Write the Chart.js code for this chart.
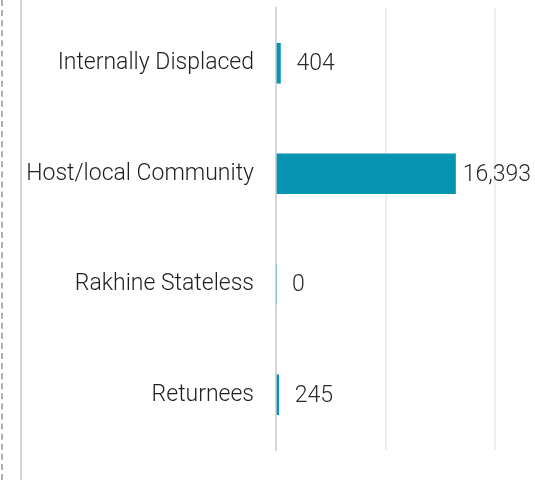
<!DOCTYPE html>
<html>
<head>
<meta charset="utf-8">
<script src="https://cdn.jsdelivr.net/npm/chart.js@4.4.1/dist/chart.umd.min.js"></script>
<style>
    html, body { margin: 0; padding: 0; background: #fff; }
    #wrap { position: relative; width: 535px; height: 480px; overflow: hidden; }
    #dash { position: absolute; left: 1px; top: 0; height: 480px; border-left: 2px dashed #b0b0b0; }
    #rule { position: absolute; left: 20px; top: 0; height: 480px; border-left: 2px solid #d4d4d4; }
    canvas { position: absolute; left: 0; top: 0; }
</style>
</head>
<body>
<div id="wrap">
    <div id="dash"></div>
    <div id="rule"></div>
    <canvas id="chart" width="535" height="480"></canvas>
</div>
<script>
// chart data
const categories = ['Internally Displaced', 'Host/local Community', 'Rakhine Stateless', 'Returnees'];
const people = [404, 16393, 0, 245];
const xTicks = [0, 10000, 20000];

const FONT = 'Roboto, "Liberation Sans", sans-serif';

// Draws the value next to each bar, pulled back in if it would run off the canvas
const valueLabels = {
    id: 'valueLabels',
    afterDatasetsDraw(chart) {
        const ctx = chart.ctx;
        const meta = chart.getDatasetMeta(0);
        ctx.save();
        ctx.font = '300 23px ' + FONT;
        ctx.fillStyle = '#2b2b2b';
        ctx.textBaseline = 'middle';
        ctx.textAlign = 'left';
        meta.data.forEach(function(bar, i) {
            const text = people[i].toLocaleString('en-US');
            const w = ctx.measureText(text).width;
            let x = bar.x + 16;
            if (x + w > chart.width - 4) x = chart.width - 4 - w;
            ctx.fillText(text, x, bar.y + 1);
        });
        ctx.restore();
    }
};

new Chart(document.getElementById('chart'), {
    type: 'bar',
    data: {
        labels: categories,
        datasets: [{
            data: people,
            backgroundColor: '#0595b1',
            barThickness: 40
        }]
    },
    options: {
        indexAxis: 'y',
        responsive: false,
        animation: false,
        layout: { padding: { top: 8, bottom: 30, right: 40, left: 0 } },
        plugins: {
            legend: { display: false },
            tooltip: { enabled: false }
        },
        scales: {
            x: {
                min: 0,
                max: 20000,
                afterBuildTicks: function(scale) {
                    scale.ticks = xTicks.map(v => ({ value: v }));
                },
                ticks: { display: false },
                border: { display: false },
                grid: {
                    drawTicks: false,
                    lineWidth: 2,
                    color: ctx => ctx.tick && ctx.tick.value === 0 ? 'rgba(0,0,0,0)' : '#eeeeee'
                }
            },
            y: {
                afterFit: function(scale) {
                    scale.width = 276;
                    scale.paddingTop = 0;
                    scale.paddingBottom = 0;
                },
                grid: { display: false, drawTicks: false },
                border: { display: true, color: '#d6d6d6', width: 2 },
                ticks: {
                    padding: 22,
                    color: '#1f1f1f',
                    font: { family: FONT, size: 23, weight: '300' }
                }
            }
        }
    },
    plugins: [valueLabels]
});
</script>
</body>
</html>
